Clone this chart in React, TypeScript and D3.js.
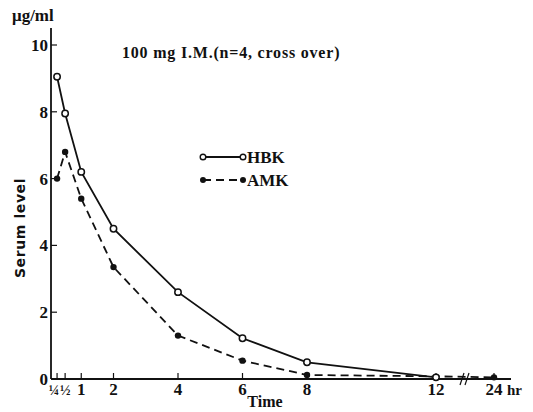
import React, { useEffect, useRef } from 'react';
import * as d3 from 'd3';

// hours after dose, serum level in µg/ml
const hbkTimes = [0.25, 0.5, 1, 2, 4, 6, 8, 12];
const hbkValues = [9.05, 7.95, 6.2, 4.5, 2.6, 1.22, 0.5, 0.05];
const amkTimes = [0.25, 0.5, 1, 2, 4, 6, 8, 12, 24];
const amkValues = [6.0, 6.8, 5.4, 3.35, 1.3, 0.55, 0.12, 0.08, 0.05];

const xTicks = [0.25, 0.5, 1, 2, 4, 6, 8, 12, 24];
const xTickLabels = ['¼', '½', '1', '2', '4', '6', '8', '12', '24'];
const yTicks = [0, 2, 4, 6, 8, 10];

const App = () => {
  const svgRef = useRef(null);

  useEffect(() => {
    const svg = d3.select(svgRef.current);
    svg.selectAll('*').remove();

    const width = 533;
    const height = 412;
    svg.attr('width', width).attr('height', height);

    // broken time axis: 0-12 linear, then jump to 24
    const x = d3.scaleLinear().domain([0, 12, 24]).range([49, 436, 494]);
    const y = d3.scaleLinear().domain([0, 10]).range([379, 45]);
    const font = '"Liberation Serif", "DejaVu Serif", serif';

    svg.append('rect').attr('width', width).attr('height', height).attr('fill', '#fff');

    // axes
    svg.append('line')
      .attr('x1', 51).attr('x2', 51)
      .attr('y1', 28).attr('y2', y(0))
      .attr('stroke', '#111').attr('stroke-width', 1.8);

    svg.append('line')
      .attr('x1', 51).attr('x2', 511)
      .attr('y1', y(0)).attr('y2', y(0))
      .attr('stroke', '#111').attr('stroke-width', 1.8);

    // axis break
    [462, 467].forEach(bx => {
      svg.append('line')
        .attr('x1', bx - 2).attr('x2', bx + 2)
        .attr('y1', y(0) + 6).attr('y2', y(0) - 6)
        .attr('stroke', '#111').attr('stroke-width', 1.2);
    });

    // y ticks
    yTicks.forEach(t => {
      if (t > 0) {
        svg.append('line')
          .attr('x1', 51).attr('x2', 57)
          .attr('y1', y(t)).attr('y2', y(t))
          .attr('stroke', '#111').attr('stroke-width', 1.2);
      }
      svg.append('text')
        .attr('x', 48)
        .attr('y', y(t) + 6)
        .attr('text-anchor', 'end')
        .attr('font-family', font)
        .attr('font-weight', 'bold')
        .attr('font-size', '17px')
        .attr('fill', '#111')
        .text(t);
    });

    // x ticks
    xTicks.forEach((t, i) => {
      const frac = t < 1;
      svg.append('line')
        .attr('x1', x(t)).attr('x2', x(t))
        .attr('y1', y(0)).attr('y2', y(0) - 6)
        .attr('stroke', '#111').attr('stroke-width', 1.2);
      svg.append('text')
        .attr('x', x(t) - (t === 0.25 ? 3 : 0))
        .attr('y', y(0) + 16)
        .attr('text-anchor', 'middle')
        .attr('font-family', font)
        .attr('font-weight', 'bold')
        .attr('font-size', frac ? '14px' : '17px')
        .attr('fill', '#111')
        .text(xTickLabels[i]);
    });

    svg.append('text')
      .attr('x', x(24) + 13).attr('y', y(0) + 16)
      .attr('font-family', font).attr('font-weight', 'bold')
      .attr('font-size', '15px').attr('fill', '#111')
      .text('hr');

    // lines
    const line = d3.line().x(d => x(d[0])).y(d => y(d[1]));

    const amk = amkTimes.map((t, i) => [t, amkValues[i]]);
    const hbk = hbkTimes.map((t, i) => [t, hbkValues[i]]);

    svg.append('path')
      .attr('d', line(amk))
      .attr('fill', 'none')
      .attr('stroke', '#111')
      .attr('stroke-width', 1.8)
      .attr('stroke-dasharray', '8,5');

    svg.append('path')
      .attr('d', line(hbk))
      .attr('fill', 'none')
      .attr('stroke', '#111')
      .attr('stroke-width', 1.8);

    svg.selectAll('.amk')
      .data(amk.filter(d => d[0] !== 12))
      .enter()
      .append('circle')
      .attr('class', 'amk')
      .attr('cx', d => x(d[0]))
      .attr('cy', d => y(d[1]))
      .attr('r', 3.2)
      .attr('fill', '#111');

    svg.selectAll('.hbk')
      .data(hbk)
      .enter()
      .append('circle')
      .attr('class', 'hbk')
      .attr('cx', d => x(d[0]))
      .attr('cy', d => y(d[1]))
      .attr('r', 3.2)
      .attr('fill', '#fff')
      .attr('stroke', '#111')
      .attr('stroke-width', 1.5);

    // legend
    const legend = svg.append('g');
    legend.append('line')
      .attr('x1', 203).attr('x2', 243).attr('y1', 157).attr('y2', 157)
      .attr('stroke', '#111').attr('stroke-width', 1.8);
    [203, 243].forEach(lx => {
      legend.append('circle')
        .attr('cx', lx).attr('cy', 157).attr('r', 2.8)
        .attr('fill', '#fff').attr('stroke', '#111').attr('stroke-width', 1.4);
    });
    legend.append('line')
      .attr('x1', 203).attr('x2', 243).attr('y1', 180).attr('y2', 180)
      .attr('stroke', '#111').attr('stroke-width', 1.8)
      .attr('stroke-dasharray', '8,5');
    [203, 243].forEach(lx => {
      legend.append('circle')
        .attr('cx', lx).attr('cy', 180).attr('r', 3)
        .attr('fill', '#111');
    });
    [['HBK', 163], ['AMK', 186]].forEach(([label, ly]) => {
      legend.append('text')
        .attr('x', 247).attr('y', ly)
        .attr('font-family', font).attr('font-weight', 'bold')
        .attr('font-size', '17px').attr('fill', '#111')
        .text(label);
    });

    // title and labels
    svg.append('text')
      .attr('x', 122).attr('y', 58)
      .attr('font-family', font).attr('font-weight', 'bold')
      .attr('font-size', '16px').attr('fill', '#111')
      .attr('letter-spacing', '0.8px')
      .text('100 mg I.M.(n=4, cross over)');

    svg.append('text')
      .attr('x', 12).attr('y', 21)
      .attr('font-family', font).attr('font-weight', 'bold')
      .attr('font-size', '17px').attr('fill', '#111')
      .text('μg/ml');

    svg.append('text')
      .attr('transform', 'translate(25, 228) rotate(-90)')
      .attr('text-anchor', 'middle')
      .attr('font-family', '"DejaVu Sans", sans-serif')
      .attr('font-weight', 'bold')
      .attr('font-size', '14px').attr('fill', '#111')
      .attr('letter-spacing', '0.6px')
      .text('Serum  level');

    svg.append('text')
      .attr('x', 265).attr('y', 407)
      .attr('text-anchor', 'middle')
      .attr('font-family', font).attr('font-weight', 'bold')
      .attr('font-size', '16px').attr('fill', '#111')
      .text('Time');
  }, []);

  return (
    <svg ref={svgRef} style={{ position: 'absolute', left: 0, top: 0 }}></svg>
  );
};

export default App;
